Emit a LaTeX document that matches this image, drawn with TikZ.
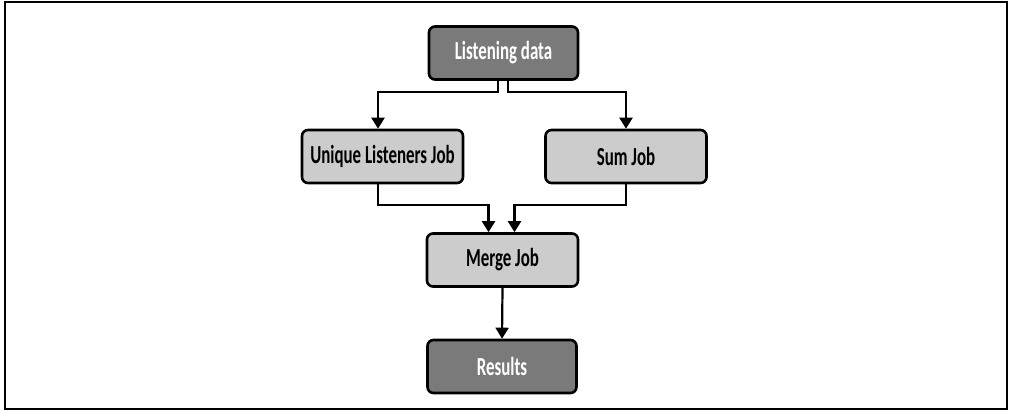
\documentclass[tikz,border=0pt]{standalone}
\usepackage{fontspec}
\setmainfont{Carlito}
\usetikzlibrary{arrows.meta}
\newcommand{\narrowtxt}[1]{\scalebox{0.65}[1]{#1}}
\tikzset{
  jobbox/.style={draw=black, line width=2.6pt, rounded corners=6pt, minimum width=150pt, minimum height=53pt, inner sep=0pt, font=\fontsize{26}{28}\selectfont\bfseries},
  darkbox/.style={jobbox, fill=black!52, text=white, minimum width=149pt},
  lightbox/.style={jobbox, fill=black!20, text=black, minimum width=161pt},
  conn/.style={line width=2.2pt, -{Triangle[length=11pt,width=13pt]}}
}
\begin{document}
\begin{tikzpicture}[x=1pt,y=-1pt]
\useasboundingbox (0,0) rectangle (1011,419);
\draw[line width=1.6pt] (5,2) rectangle (1007,409);
\node[darkbox] (data) at (503.5,53) {\narrowtxt{Listening data}};
\node[lightbox] (uniq) at (382.5,156.5) {\narrowtxt{Unique Listeners Job}};
\node[lightbox] (sum) at (626,156.5) {\narrowtxt{Sum Job}};
\node[lightbox, minimum width=151pt] (merge) at (502.5,260) {\narrowtxt{Merge Job}};
\node[darkbox] (res) at (502,366.5) {\narrowtxt{Results}};
\coordinate (d1) at (498,92);
\coordinate (d2) at (508,92);
\coordinate (m1) at (378,205);
\coordinate (m2) at (626,205);
\draw[conn] ([xshift=-5.5pt]data.south) |- (d1) -| (uniq.north -| m1) ;
\draw[conn] ([xshift=4.5pt]data.south) |- (d2) -| (sum.north);
\draw[conn] (uniq.south -| m1) |- (m1) -| ([xshift=-14pt]merge.north);
\draw[conn] (sum.south) |- (m2) -| ([xshift=12pt]merge.north);
\draw[conn] (merge.south) -- (res.north);
\end{tikzpicture}
\end{document}
